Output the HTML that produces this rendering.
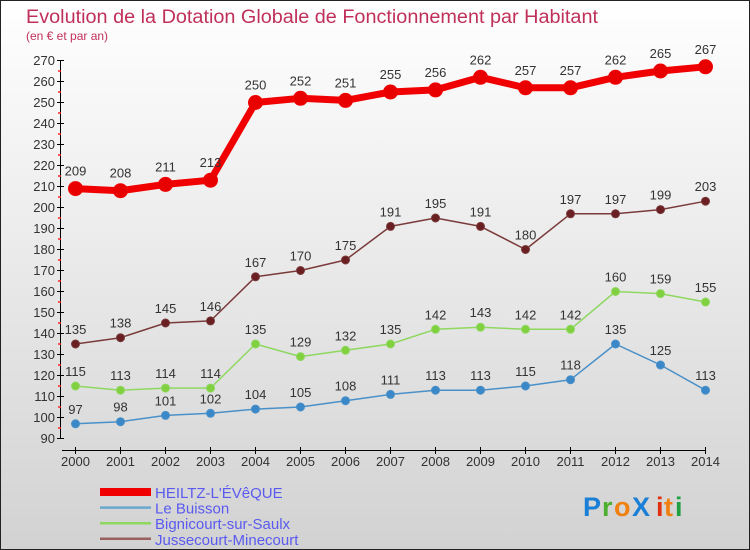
<!DOCTYPE html>
<html><head><meta charset="utf-8"><style>
body{margin:0}
#wrap{width:750px;height:550px;position:relative;overflow:hidden;font-family:"Liberation Sans",sans-serif}
svg text{font-family:"Liberation Sans",sans-serif}
</style></head><body>
<div id="wrap">
<svg id="chart" width="750" height="550" xmlns="http://www.w3.org/2000/svg">
<defs><linearGradient id="bg" x1="0" y1="0" x2="0" y2="1"><stop offset="0" stop-color="#ffffff"/><stop offset="1" stop-color="#d2d2d2"/></linearGradient></defs>
<rect x="0.5" y="0.5" width="749" height="549" fill="url(#bg)" stroke="#222"/>
<text x="26" y="23" font-size="19" fill="#c0305a" textLength="572" lengthAdjust="spacingAndGlyphs">Evolution de la Dotation Globale de Fonctionnement par Habitant</text>
<text x="26" y="40" font-size="12" fill="#c0305a">(en € et par an)</text>
<g id="axes"></g><g id="series"></g><g id="legend"></g>
<g font-size="27" font-family="Liberation Sans" font-weight="bold">
<text x="583" y="516" fill="#1a7fd6">P</text><text x="602" y="516" fill="#4caf30">r</text><text x="614" y="516" fill="#f08010">o</text><text x="632" y="516" fill="#1a7fd6">X</text><text x="656" y="516" fill="#e03010">i</text><text x="664" y="516" fill="#f08010">t</text><text x="675" y="516" fill="#20a040">i</text>
</g>
</svg>
</div>
<script>
const years=[2000,2001,2002,2003,2004,2005,2006,2007,2008,2009,2010,2011,2012,2013,2014];
const heiltz=[209,208,211,213,250,252,251,255,256,262,257,257,262,265,267];
const buisson=[97,98,101,102,104,105,108,111,113,113,115,118,135,125,113];
const bignicourt=[115,113,114,114,135,129,132,135,142,143,142,142,160,159,155];
const jussecourt=[135,138,145,146,167,170,175,191,195,191,180,197,197,199,203];
const yTicks=[90,100,110,120,130,140,150,160,170,180,190,200,210,220,230,240,250,260,270];
const seriesNames=["HEILTZ-L'ÉVêQUE","Le Buisson","Bignicourt-sur-Saulx","Jussecourt-Minecourt"];
const NS="http://www.w3.org/2000/svg";
const x=i=>75.5+i*(705.5-75.5)/(years.length-1);
const y=v=>60.5+(270-v)*2.1;
function mk(tag,attrs,parent){const e=document.createElementNS(NS,tag);for(const k in attrs)e.setAttribute(k,attrs[k]);parent.appendChild(e);return e;}
const ax=document.getElementById('axes');
let l=mk('line',{x1:60.5,y1:y(270),x2:60.5,y2:y(90),stroke:'#000'},ax);


yTicks.forEach(t=>{
 const tk=mk('line',{x1:57,x2:64,y1:y(t),y2:y(t),stroke:'#000'},ax);
 
 
 if(t!==90){mk('line',{x1:58,x2:61,y1:y(t)+10.5,y2:y(t)+10.5,stroke:'#f22','stroke-width':1.5},ax);}
 const tx=mk('text',{x:55,y:y(t)+4.5,'font-size':13,fill:'#333','text-anchor':'end'},ax);
 tx.textContent=t;
 
 
});
l=mk('line',{x1:62,y1:450.5,x2:706,y2:450.5,stroke:'#000'},ax);


years.forEach((yr,i)=>{
 const tk=mk('line',{x1:x(i),x2:x(i),y1:447,y2:454,stroke:'#000'},ax);
 
 
 const tx=mk('text',{x:x(i),y:466,'font-size':13,fill:'#333','text-anchor':'middle'},ax);
 tx.textContent=yr;
 
 
});
const sg=document.getElementById('series');
function draw(vals,color,dot,w,r,name){
 const g=mk('g',{},sg);
 
 
 const p=mk('polyline',{points:vals.map((v,i)=>x(i)+','+y(v)).join(' '),fill:'none',stroke:color,'stroke-width':w,'stroke-linejoin':'round'},g);
 
 
 vals.forEach((v,i)=>{
  const c=mk('circle',{cx:x(i),cy:y(v),r:r,fill:dot,stroke:color,'stroke-width':1},g);
  
  
  const t=mk('text',{x:x(i),y:y(v)-(r+6),'font-size':13,fill:'#333','text-anchor':'middle'},g);
  t.textContent=v;
  
  
 });
}
draw(buisson,'#4a90c8','#3a88c8',1.5,4,'le-buisson');
draw(bignicourt,'#8ed860','#80d040',1.5,4,'bignicourt');
draw(jussecourt,'#7a3a3a','#6a1f22',1.5,4,'jussecourt');
draw(heiltz,'#f00000','#e80000',7,7,'heiltz');
const lg=document.getElementById('legend');
const lc=['#f00000','#6aa8d0','#8ed860','#9a6060'],lw=[8,2.5,2.5,2.5];
seriesNames.forEach((n,i)=>{
 const yy=492+i*15.6;
 const ln=mk('line',{x1:100,x2:151,y1:yy,y2:yy,stroke:lc[i],'stroke-width':lw[i]},lg);
 
 
 const t=mk('text',{x:155,y:yy+6,'font-size':15,fill:'#5a5af0'},lg);
 t.textContent=n;
 
 
});
</script>
</body></html>
